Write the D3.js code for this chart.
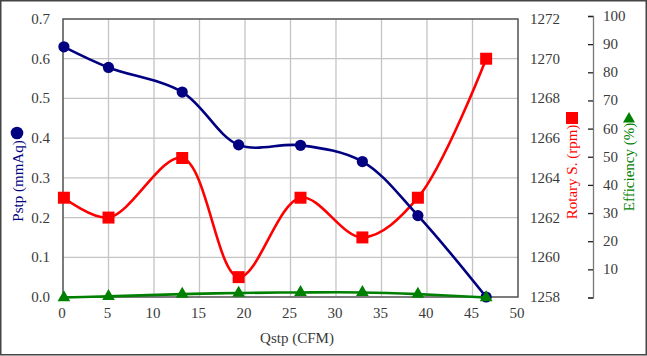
<!DOCTYPE html>
<html lang="en">
<head>
    <meta charset="UTF-8">
    <title>Pstp / Rotary / Efficiency</title>
    <script src="https://cdn.jsdelivr.net/npm/d3@7"></script>
    <style>
        body { margin: 0; background: #fff; }
        svg text { font-family: 'Liberation Serif', 'Times New Roman', Times, serif; }
    </style>
</head>
<body>
    <script>
        // data
        let qstp = [0.1, 5.0, 13.1, 19.3, 26.1, 32.9, 39.0, 46.5];
        let pstp = [0.630, 0.578, 0.516, 0.383, 0.382, 0.341, 0.205, 0.0];
        let rotary = [1263, 1262, 1265, 1259, 1263, 1261, 1263, 1270];
        let efficiency = [0, 0.4, 1.2, 1.6, 1.8, 1.8, 1.2, 0];

        let xTicks = d3.range(0, 51, 5);
        let pTicks = d3.range(0, 0.71, 0.1);
        let rTicks = d3.range(1258, 1273, 2);
        let eTicks = d3.range(0, 101, 10);

        let w = 647, h = 356;
        let pLeft = 63, pRight = 518, pTop = 19, pBottom = 297;
        let serif = "'Liberation Serif', 'Times New Roman', serif";
        let fs = 15;

        let svg = d3.select('body').append('svg')
                    .attr('width', w)
                    .attr('height', h)
                    .attr('font-family', serif);

        // outer frame
        svg.append('rect')
           .attr('x', 0.75).attr('y', 0.75)
           .attr('width', w - 1.5).attr('height', h - 2)
           .attr('fill', 'none')
           .attr('stroke', '#444')
           .attr('stroke-width', 1.5);

        let x = d3.scaleLinear().domain([0, 50]).range([pLeft, pRight]);
        let yP = d3.scaleLinear().domain([0, 0.7]).range([pBottom, pTop]);
        let yR = d3.scaleLinear().domain([1258, 1272]).range([pBottom, pTop]);
        let yE = d3.scaleLinear().domain([0, 100]).range([297.5, 16]);

        // grid
        svg.append('g').selectAll('line')
           .data(pTicks.slice(1, -1))
           .enter().append('line')
           .attr('x1', pLeft).attr('x2', pRight)
           .attr('y1', d => yP(d)).attr('y2', d => yP(d))
           .attr('stroke', '#c4c4c4').attr('stroke-width', 1.3);

        svg.append('g').selectAll('line')
           .data(xTicks.slice(1, -1))
           .enter().append('line')
           .attr('y1', pTop).attr('y2', pBottom)
           .attr('x1', d => x(d)).attr('x2', d => x(d))
           .attr('stroke', '#c4c4c4').attr('stroke-width', 1.3);

        // plot frame
        svg.append('rect')
           .attr('x', pLeft).attr('y', pTop)
           .attr('width', pRight - pLeft).attr('height', pBottom - pTop)
           .attr('fill', 'none')
           .attr('stroke', '#505050')
           .attr('stroke-width', 1.5);

        // tick labels
        svg.append('g').selectAll('text')
           .data(pTicks)
           .enter().append('text')
           .attr('x', 50).attr('y', d => yP(d) + 5)
           .attr('text-anchor', 'end')
           .attr('font-family', serif)
           .attr('font-size', fs).attr('fill', '#3a3a3a')
           .text(d => d.toFixed(1));

        svg.append('g').selectAll('text')
           .data(xTicks)
           .enter().append('text')
           .attr('x', d => x(d) - 1).attr('y', 318)
           .attr('text-anchor', 'middle')
           .attr('font-family', serif)
           .attr('font-size', fs).attr('fill', '#3a3a3a')
           .text(d => d);

        svg.append('g').selectAll('text')
           .data(rTicks)
           .enter().append('text')
           .attr('x', 530).attr('y', d => yR(d) + 5)
           .attr('font-family', serif)
           .attr('font-size', fs).attr('fill', '#3a3a3a')
           .text(d => d);

        // efficiency axis
        let eAxis = d3.axisLeft(yE).tickValues(eTicks).tickSize(5).tickFormat('');
        let eg = svg.append('g')
                    .attr('transform', 'translate(593,0)')
                    .call(eAxis);
        eg.select('.domain').attr('stroke', '#777').attr('stroke-width', 1.3);
        eg.selectAll('.tick line').attr('stroke', '#222').attr('stroke-width', 1.3);

        svg.append('g').selectAll('text')
           .data(eTicks.slice(1))
           .enter().append('text')
           .attr('x', 603).attr('y', d => yE(d) + 5)
           .attr('font-family', serif)
           .attr('font-size', fs).attr('fill', '#3a3a3a')
           .text(d => d);

        // axis titles
        svg.append('text')
           .attr('x', 297).attr('y', 343)
           .attr('text-anchor', 'middle')
           .attr('font-family', serif)
           .attr('font-size', fs).attr('fill', '#3a3a3a')
           .text('Qstp (CFM)');

        svg.append('text')
           .attr('transform', 'translate(23,181)rotate(-90)')
           .attr('text-anchor', 'middle')
           .attr('font-family', serif)
           .attr('font-size', fs).attr('fill', '#000080')
           .text('Pstp (mmAq)');
        svg.append('circle')
           .attr('cx', 17).attr('cy', 133).attr('r', 6.3)
           .attr('fill', '#000080');

        svg.append('text')
           .attr('transform', 'translate(577,172)rotate(-90)')
           .attr('text-anchor', 'middle')
           .attr('font-family', serif)
           .attr('font-size', fs).attr('fill', '#ff0000')
           .text('Rotary S. (rpm)');
        svg.append('rect')
           .attr('x', 566).attr('y', 112).attr('width', 12).attr('height', 12)
           .attr('fill', '#ff0000');

        svg.append('text')
           .attr('transform', 'translate(634,167)rotate(-90)')
           .attr('text-anchor', 'middle')
           .attr('font-family', serif)
           .attr('font-size', fs).attr('fill', '#008000')
           .text('Efficiency (%)');
        svg.append('path')
           .attr('transform', 'translate(629,119)')
           .attr('d', d3.symbol(d3.symbolTriangle, 62)())
           .attr('fill', '#008000');

        // series
        let idx = d3.range(qstp.length);
        let curve = d3.curveCatmullRom.alpha(0.5);

        function series(yScale, vals, color, shape) {
            let g = svg.append('g');
            g.append('path')
             .attr('d', d3.line().curve(curve).x(i => x(qstp[i])).y(i => yScale(vals[i]))(idx))
             .attr('fill', 'none')
             .attr('stroke', color)
             .attr('stroke-width', 2.6);
            g.selectAll('path.m')
             .data(idx)
             .enter().append('path')
             .attr('class', 'm')
             .attr('transform', i => 'translate(' + x(qstp[i]) + ',' + yScale(vals[i]) + ')')
             .attr('d', d3.symbol(shape.type, shape.size)())
             .attr('fill', color);
        }

        series(yR, rotary, '#ff0000', {type: d3.symbolSquare, size: 144});
        series(yP, pstp, '#000080', {type: d3.symbolCircle, size: Math.PI * 5.6 * 5.6});
        series(yE, efficiency, '#008000', {type: d3.symbolTriangle, size: 70});
    </script>
</body>
</html>
